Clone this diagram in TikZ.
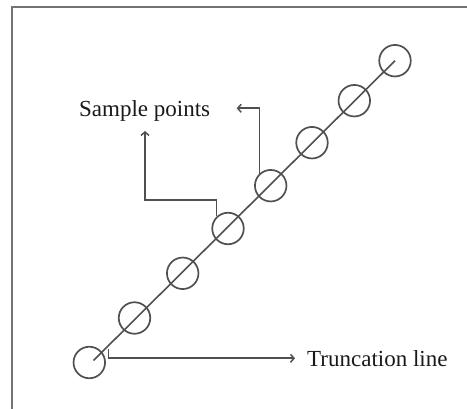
\documentclass[tikz,border=0pt]{standalone}
\usepackage{fontspec}
\setmainfont{Liberation Serif}
\usetikzlibrary{arrows.meta}
\definecolor{ink}{RGB}{80,80,80}
\definecolor{framegray}{RGB}{115,115,115}
\definecolor{txt}{RGB}{25,25,25}
\begin{document}
\begin{tikzpicture}[x=1pt,y=-1pt,
  sample/.style={circle,draw=ink,line width=1.7pt,minimum size=31.5pt,inner sep=0pt},
  conn/.style={draw=ink,line width=1.6pt},
  pointer/.style={conn,-{Straight Barb[length=3.5pt,width=8pt,line width=1.5pt]}},
  label/.style={inner sep=0pt,text=txt,font=\fontsize{23}{27}\selectfont}]
  \useasboundingbox (0,0) rectangle (467,409);
  % outer frame (left and top edges visible)
  \draw[framegray,line width=2pt] (11.5,415) -- (11.5,7.5) -- (475,7.5);
  % sample circles along the diagonal
  \node[sample] (c1) at (89.3,362.5) {};
  \node[sample] (c2) at (134.5,318) {};
  \node[sample] (c3) at (182.7,273.3) {};
  \node[sample] (c4) at (228,228.5) {};
  \node[sample] (c5) at (270.7,185.7) {};
  \node[sample] (c6) at (312,142.7) {};
  \node[sample] (c7) at (354.3,100.7) {};
  \node[sample] (c8) at (395,60.7) {};
  % truncation line through the samples
  \coordinate (tstart) at (93.5,360.5);
  \draw[conn] (tstart) -- (c8.center);
  % labels
  \node[label,anchor=base west] (sp) at (79,116.7) {Sample points};
  \node[label,anchor=base west] (tl) at (307,366.5) {Truncation line};
  % pointers to the label "Sample points"
  \coordinate (p1) at (145,131);
  \draw[pointer] (c4.133) -- (c4.133 |- 0,200) -- (p1 |- 0,200) -- (p1);
  \coordinate (p2) at (236.7,108.3);
  \draw[pointer] (c5.133) -- (c5.133 |- p2) -- (p2);
  % pointer to the label "Truncation line"
  \coordinate (tk) at (108.3,349);
  \coordinate (t2) at (295,358.3);
  \draw[pointer] (tk) -- (tk |- t2) -- (t2);
\end{tikzpicture}
\end{document}
